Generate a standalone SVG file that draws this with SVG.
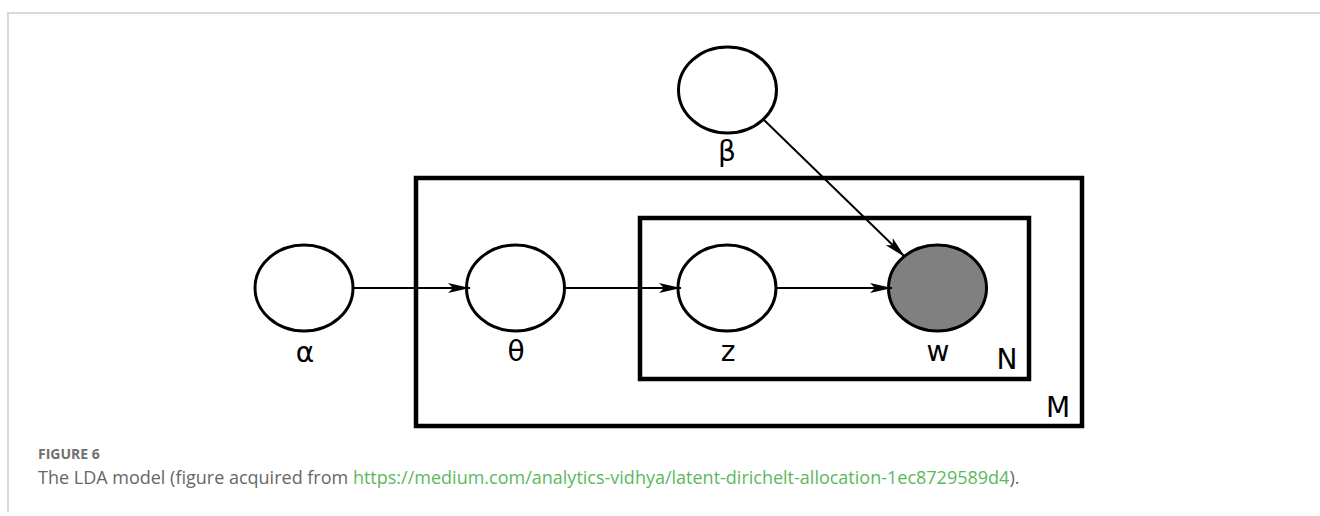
<svg xmlns="http://www.w3.org/2000/svg" width="1320" height="516" viewBox="0 0 1320 516">
<style>
.node{fill:#fff;stroke:#000;stroke-width:3}
.obs{fill:#808080;stroke:#000;stroke-width:3}
.plate{fill:none;stroke:#000;stroke-width:4.5}
.lbl{font-family:"DejaVu Sans",sans-serif;font-size:28px;fill:#000;text-anchor:middle}
.edge{stroke:#000;stroke-width:2;fill:none;marker-end:url(#ah)}
.cap{font-family:"Open Sans","Liberation Sans",sans-serif}
</style>
<defs>
<marker id="ah" markerUnits="userSpaceOnUse" markerWidth="24" markerHeight="12" refX="22" refY="5" orient="auto" viewBox="0 0 24 12">
<path d="M0,0 L22,5 L0,10 L5,5 z" fill="#000"/>
</marker>
</defs>
<rect width="1320" height="516" fill="#fff"/>
<path d="M8,512 V13 H1320" fill="none" stroke="#d9d9d9" stroke-width="2"/>
<g id="plate-M"><rect class="plate" x="416" y="178" width="666" height="248"/><text class="lbl" x="1058" y="417">M</text></g>
<g id="plate-N"><rect class="plate" x="640" y="218" width="389" height="161"/><text class="lbl" x="1007" y="369">N</text></g>
<g id="node-alpha"><ellipse class="node" cx="304" cy="288" rx="49" ry="43"/><text class="lbl" x="305" y="362">α</text></g>
<g id="node-theta"><ellipse class="node" cx="515.5" cy="288" rx="49" ry="43"/><text class="lbl" x="516" y="361">θ</text></g>
<g id="node-z"><ellipse class="node" cx="727" cy="288" rx="49" ry="43"/><text class="lbl" x="728" y="361">z</text></g>
<g id="node-w"><ellipse class="obs" cx="937.5" cy="288" rx="49" ry="43"/><text class="lbl" x="938" y="361">w</text></g>
<g id="node-beta"><ellipse class="node" cx="727.5" cy="90" rx="49" ry="43"/><text class="lbl" x="727" y="161">β</text></g>
<g id="connectors">
<line class="edge" x1="353" y1="288" x2="470" y2="288"/>
<line class="edge" x1="565" y1="288" x2="681" y2="288"/>
<line class="edge" x1="776" y1="288" x2="892" y2="288"/>
<line class="edge" x1="763" y1="119" x2="905" y2="257"/>
</g>
<g id="caption" class="cap">
<text x="38" y="459" font-size="14" font-weight="bold" fill="#707070">FIGURE 6</text>
<text x="38" y="484" font-size="18" fill="#666">The LDA model (figure acquired from <tspan fill="#5cb85c">https://medium.com/analytics-vidhya/latent-dirichelt-allocation-1ec8729589d4</tspan>).</text>
</g>
</svg>
